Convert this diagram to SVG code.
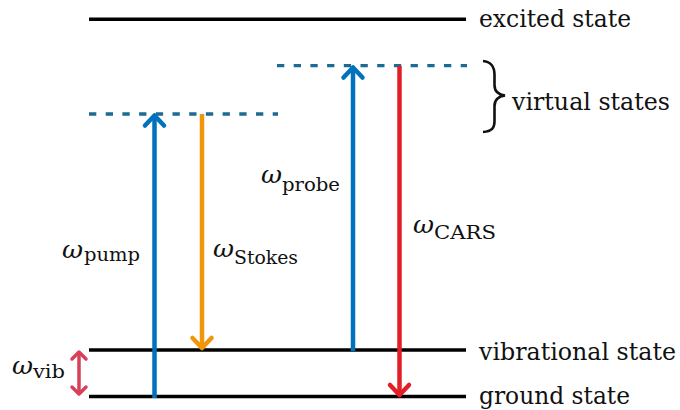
<svg xmlns="http://www.w3.org/2000/svg" width="680" height="410" viewBox="0 0 680 410">
  <style>
    .level { stroke: #000; stroke-width: 3.5; fill: none; }
    .virtual { stroke: #1d6a93; stroke-width: 3.3; stroke-dasharray: 7.3 9.4; fill: none; }
    .beam { stroke-width: 4.5; fill: none; }
    text { font-family: "DejaVu Serif", "Liberation Serif", serif; fill: #111; }
    .lbl { font-size: 24px; }
    .om { font-style: italic; font-size: 25px; }
    .sub { font-size: 18px; }
    .head { fill: none; stroke-width: 4.5; stroke-linecap: round; stroke-linejoin: round; }
  </style>
  <defs>
    <marker id="hBlue" markerUnits="userSpaceOnUse" orient="auto" refX="0" refY="0" overflow="visible">
      <path class="head" d="M-10,-9.5 L0,0 L-10,9.5" stroke="#0072bd"/>
    </marker>
    <marker id="hOrange" markerUnits="userSpaceOnUse" orient="auto" refX="0" refY="0" overflow="visible">
      <path class="head" d="M-10,-9.5 L0,0 L-10,9.5" stroke="#f0960a"/>
    </marker>
    <marker id="hRed" markerUnits="userSpaceOnUse" orient="auto" refX="0" refY="0" overflow="visible">
      <path class="head" d="M-10,-9.5 L0,0 L-10,9.5" stroke="#e21f26"/>
    </marker>
    <marker id="hVib" markerUnits="userSpaceOnUse" orient="auto-start-reverse" refX="0" refY="0" overflow="visible">
      <path d="M-7,-7 L0,0 L-7,7" fill="none" stroke="#d8405a" stroke-width="3.5" stroke-linecap="round" stroke-linejoin="round"/>
    </marker>
  </defs>

  <!-- energy levels -->
  <g id="excited-state">
    <line class="level" x1="89" y1="19.3" x2="466" y2="19.3"/>
    <text class="lbl" x="479" y="27" textLength="152" lengthAdjust="spacingAndGlyphs">excited state</text>
  </g>
  <g id="virtual-states">
    <line class="virtual" x1="89" y1="114" x2="278" y2="114"/>
    <line class="virtual" x1="277" y1="65.7" x2="467" y2="65.7"/>
    <path d="M483,61 C492,62 494.5,67 494.5,75 L494.5,85 C494.5,91 498,94.5 505,95.5 C498,96.5 494.5,100 494.5,106 L494.5,121 C494.5,128 492,131.5 483,132" fill="none" stroke="#111" stroke-width="2.6"/>
    <text class="lbl" x="512" y="110" textLength="158" lengthAdjust="spacingAndGlyphs">virtual states</text>
  </g>
  <g id="vibrational-state">
    <line class="level" x1="89" y1="350" x2="466" y2="350"/>
    <text class="lbl" x="479" y="359.5" textLength="197" lengthAdjust="spacingAndGlyphs">vibrational state</text>
  </g>
  <g id="ground-state">
    <line class="level" x1="89" y1="396.5" x2="466" y2="396.5"/>
    <text class="lbl" x="479" y="404" textLength="151" lengthAdjust="spacingAndGlyphs">ground state</text>
  </g>

  <!-- transitions -->
  <g id="connectors">
    <line class="beam" x1="154.5" y1="398" x2="154.5" y2="115.5" stroke="#0072bd" marker-end="url(#hBlue)"/>
    <line class="beam" x1="202" y1="114" x2="202" y2="348" stroke="#f0960a" marker-end="url(#hOrange)"/>
    <line class="beam" x1="353" y1="351" x2="353" y2="67.5" stroke="#0072bd" marker-end="url(#hBlue)"/>
    <line class="beam" x1="399.5" y1="66" x2="399.5" y2="395" stroke="#e21f26" marker-end="url(#hRed)"/>
    <line x1="79" y1="352" x2="79" y2="394" stroke="#d8405a" stroke-width="3.5" marker-start="url(#hVib)" marker-end="url(#hVib)"/>
  </g>

  <!-- frequency labels -->
  <g id="label-pump">
    <text class="om" x="62" y="257.5" textLength="21" lengthAdjust="spacingAndGlyphs">ω</text>
    <text class="sub" x="84" y="261" textLength="56" lengthAdjust="spacingAndGlyphs">pump</text>
  </g>
  <g id="label-stokes">
    <text class="om" x="213" y="257" textLength="21" lengthAdjust="spacingAndGlyphs">ω</text>
    <text class="sub" x="234" y="264" textLength="64" lengthAdjust="spacingAndGlyphs">Stokes</text>
  </g>
  <g id="label-probe">
    <text class="om" x="261" y="182.5" textLength="21" lengthAdjust="spacingAndGlyphs">ω</text>
    <text class="sub" x="282" y="191" textLength="58" lengthAdjust="spacingAndGlyphs">probe</text>
  </g>
  <g id="label-cars">
    <text class="om" x="413" y="233" textLength="21" lengthAdjust="spacingAndGlyphs">ω</text>
    <text class="sub" x="434" y="239" textLength="62" lengthAdjust="spacingAndGlyphs">CARS</text>
  </g>
  <g id="label-vib">
    <text class="om" x="12" y="374" textLength="21" lengthAdjust="spacingAndGlyphs">ω</text>
    <text class="sub" x="33" y="378" textLength="32" lengthAdjust="spacingAndGlyphs">vib</text>
  </g>
</svg>
